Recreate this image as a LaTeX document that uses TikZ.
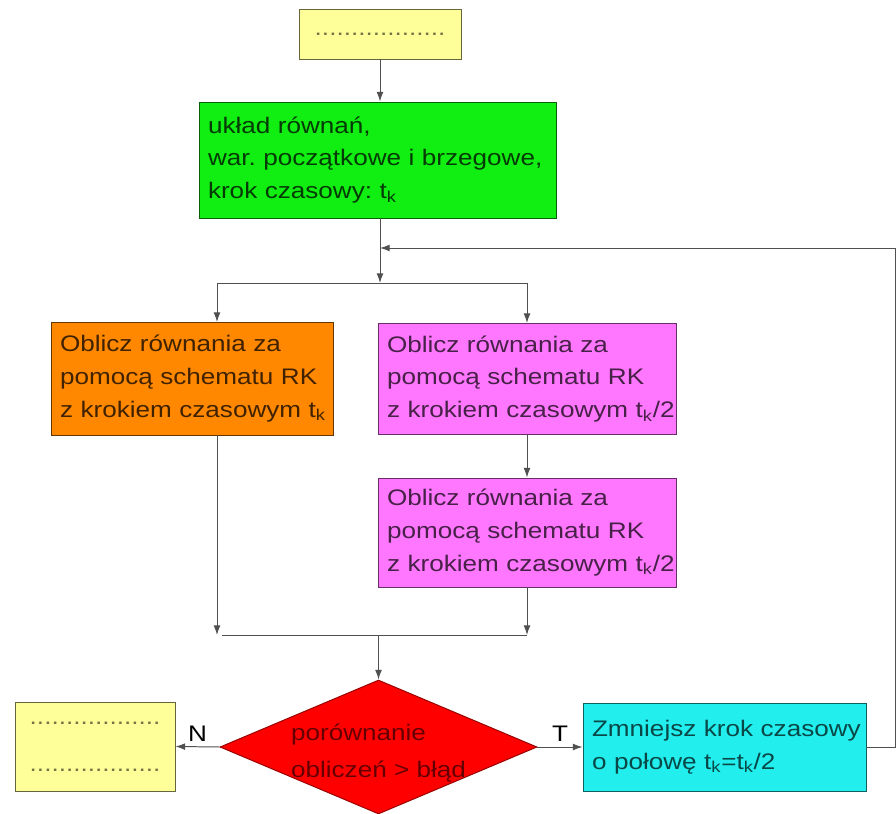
\documentclass[tikz,border=0pt]{standalone}
\usepackage{fontspec}
\setmainfont[FakeStretch=1.16]{Liberation Sans}
\usetikzlibrary{shapes,arrows.meta}
\definecolor{boxyellow}{HTML}{FFFF99}
\definecolor{boxgreen}{HTML}{11EE11}
\definecolor{boxorange}{HTML}{FF8800}
\definecolor{boxpink}{HTML}{FF77FF}
\definecolor{boxred}{HTML}{FF0000}
\definecolor{boxcyan}{HTML}{22EEEE}
\definecolor{linegray}{HTML}{505050}
\frenchspacing
\newcommand{\ind}{\hspace*{0.225cm}}

\begin{document}
\begin{tikzpicture}[x=0.025cm,y=-0.025cm]
\tikzset{box/.style = {draw,line width=0.7pt,inner xsep=0pt,inner ysep=0pt,
  font=\fontsize{16}{23.4}\selectfont,align=left}}
\tikzset{edge/.style = {->,> = {Latex[length=2.4mm,width=1.7mm]},draw=linegray,line width=0.7pt}}
\tikzset{wire/.style = {draw=linegray,line width=0.7pt}}
\useasboundingbox (0,0) rectangle (896,814);

\node[box,fill=boxyellow,draw=black!60!boxyellow,text=black!55!boxyellow,
  minimum width={162*0.025cm},minimum height={50*0.025cm},align=center] (start) at (380,34) {..................};
\node[box,fill=boxgreen,draw=black!60!boxgreen,text=black!75!boxgreen,
  minimum width={357*0.025cm},minimum height={116*0.025cm},text width={357*0.025cm}] (dane) at (377.5,160)
  {\ind układ równań,\\\ind war. początkowe i brzegowe,\\\ind krok czasowy: t\textsubscript{k}};
\node[box,fill=boxorange,draw=black!60!boxorange,text=black!75!boxorange,
  minimum width={282*0.025cm},minimum height={113*0.025cm},text width={282*0.025cm}] (rk1) at (192,378.5)
  {\ind Oblicz równania za\\\ind pomocą schematu RK\\\ind z krokiem czasowym t\textsubscript{k}};
\node[box,fill=boxpink,draw=black!60!boxpink,text=black!72!boxpink,
  minimum width={298*0.025cm},minimum height={111*0.025cm},text width={298*0.025cm}] (rk2) at (527,379)
  {\ind Oblicz równania za\\\ind pomocą schematu RK\\\ind z krokiem czasowym t\textsubscript{k}/2};
\node[box,fill=boxpink,draw=black!60!boxpink,text=black!72!boxpink,
  minimum width={298*0.025cm},minimum height={109*0.025cm},text width={298*0.025cm}] (rk3) at (527,532.5)
  {\ind Oblicz równania za\\\ind pomocą schematu RK\\\ind z krokiem czasowym t\textsubscript{k}/2};
\node[box,shape=diamond,fill=boxred,draw=black!40!boxred,text=black!60!boxred,align=center,
  inner sep=0pt,aspect=2.37,minimum width={317*0.025cm},minimum height={134*0.025cm}] (por) at (378.5,747)
  {\raisebox{-22pt}[0pt][0pt]{\shortstack[l]{porównanie\\[1ex]obliczeń > błąd}}};
\node[box,fill=boxyellow,draw=black!60!boxyellow,text=black!55!boxyellow,
  minimum width={160*0.025cm},minimum height={89*0.025cm},align=center] (koniec) at (95,746.5)
  {..................\\[1.2ex]..................};
\node[box,fill=boxcyan,draw=black!60!boxcyan,text=black!70!boxcyan,
  minimum width={283*0.025cm},minimum height={88*0.025cm},text width={283*0.025cm}] (zmn) at (724.5,747)
  {\ind Zmniejsz krok czasowy\\\ind o połowę t\textsubscript{k}=t\textsubscript{k}/2};

\coordinate (j1) at (380,283);
\coordinate (j2) at (380,635);
\coordinate (pr) at (895,248);

\draw[edge] (start) -- (start |- dane.north);
\draw[edge] (dane.south -| j1) -- (j1);
\draw[wire] (217,283) -- (527,283);
\draw[edge] (217,283) -- (217,322);
\draw[edge] (rk2 |- j1) -- (rk2.north);
\draw[edge] (rk2) -- (rk3);
\draw[edge] (217,435) -- (217,635);
\draw[wire] (222,635) -- (rk3 |- j2);
\draw[edge] (rk3) -- (rk3 |- j2);
\draw[edge] (por.north |- j2) -- (por.north);
\draw[edge] (por.west) -- node[above,font=\fontsize{16}{18}\selectfont] {N} (koniec.east);
\draw[edge] (por.east) -- node[above,font=\fontsize{16}{18}\selectfont] {T} (zmn.west);
\draw[edge] (zmn.east) -| (pr) -- (380,248);
\end{tikzpicture}
\end{document}
